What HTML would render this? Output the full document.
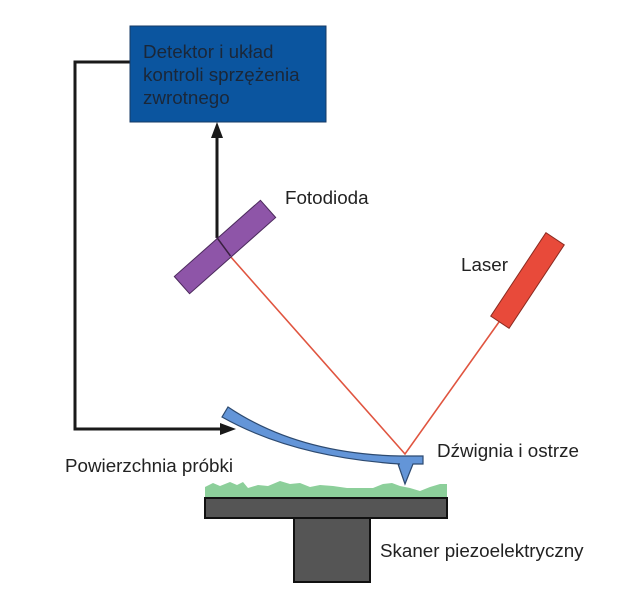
<!DOCTYPE html>
<html>
<head>
<meta charset="utf-8">
<style>
html,body{margin:0;padding:0;background:#ffffff;}
svg{display:block;}
text{font-family:"Liberation Sans", Arial, sans-serif;font-size:18.8px;fill:#222;}
</style>
</head>
<body>
<svg width="639" height="600" viewBox="0 0 639 600" xmlns="http://www.w3.org/2000/svg">
  <rect x="0" y="0" width="639" height="600" fill="#ffffff"/>

  <!-- feedback line -->
  <polyline points="131,62 75,62 75,429 222,429" fill="none" stroke="#1a1a1a" stroke-width="3"/>
  <polygon points="236,429 220,423 220,435" fill="#1a1a1a"/>

  <!-- detector box -->
  <rect x="130" y="26" width="196" height="96" fill="#0b559f" stroke="#163a66" stroke-width="1"/>
  <text x="143" y="58" style="fill:#1b2738">Detektor i układ</text>
  <text x="143" y="81" style="fill:#1b2738">kontroli sprzężenia</text>
  <text x="143" y="104" style="fill:#1b2738">zwrotnego</text>

  <!-- up arrow from photodiode -->
  <line x1="217" y1="238" x2="217" y2="134" stroke="#1a1a1a" stroke-width="3"/>
  <polygon points="217,122 211,138 223,138" fill="#1a1a1a"/>

  <!-- laser beam -->
  <polyline points="230,256 405,454 499,322" fill="none" stroke="#e05540" stroke-width="1.6"/>

  <!-- photodiode -->
  <g transform="translate(225,247) rotate(-41.5)">
    <rect x="-57.5" y="-11.5" width="115" height="23" fill="#8e55a8" stroke="#4b2a5c" stroke-width="1"/>
  </g>
  <line x1="216.5" y1="237" x2="230.5" y2="256" stroke="#3a2040" stroke-width="1.5"/>
  <text x="285" y="204">Fotodioda</text>

  <!-- laser -->
  <g transform="translate(527.5,280.5) rotate(-56.5)">
    <rect x="-50" y="-11" width="100" height="22" fill="#e84a3a" stroke="#8a2a20" stroke-width="1"/>
  </g>
  <text x="461" y="271">Laser</text>

  <!-- cantilever -->
  <path d="M228,407 Q298,454 400,456 L423,456 L423,464 L413,464 L405,484 L398,464 L400,464 Q293,457 222,417 Z" fill="#6395d8" stroke="#2d4a70" stroke-width="1.2" stroke-linejoin="miter"/>
  <text x="437" y="457">Dźwignia i ostrze</text>

  <text x="65" y="472">Powierzchnia próbki</text>

  <!-- sample surface -->
  <path d="M205,487 L213,483 L220,486 L230,482 L237,485 L243,482 L248,488 L258,485 L268,486 L280,481 L290,484 L300,483 L310,487 L320,485 L333,486 L347,488 L360,488 L373,488 L383,484 L392,483 L400,486 L410,488 L420,491 L430,487 L440,484 L447,484 L447,498 L205,498 Z" fill="#8ccf9a"/>

  <!-- scanner -->
  <rect x="205" y="498" width="242" height="20" fill="#555555" stroke="#111" stroke-width="2"/>
  <rect x="294" y="518" width="76" height="64" fill="#555555" stroke="#111" stroke-width="2"/>
  <text x="380" y="557">Skaner piezoelektryczny</text>
</svg>
</body>
</html>
